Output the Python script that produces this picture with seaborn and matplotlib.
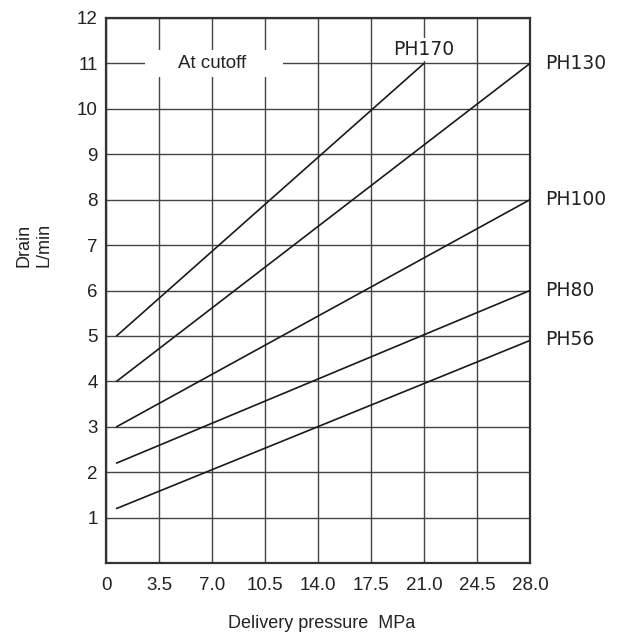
import matplotlib
matplotlib.use('Agg')
import matplotlib.pyplot as plt
import matplotlib.patches as mpatches
import seaborn as sns
import pandas as pd

# ---- data ----
models = ['PH170', 'PH130', 'PH100', 'PH80', 'PH56']
x_start = [0.7, 0.7, 0.7, 0.7, 0.7]
x_end = [21.0, 28.0, 28.0, 28.0, 28.0]
y_start = [5.0, 4.0, 3.0, 2.2, 1.2]
y_end = [11.0, 11.0, 8.0, 6.0, 4.9]
x_ticks = [0, 3.5, 7.0, 10.5, 14.0, 17.5, 21.0, 24.5, 28.0]
x_tick_labels = ['0', '3.5', '7.0', '10.5', '14.0', '17.5', '21.0', '24.5', '28.0']
y_ticks = list(range(1, 13))
y_tick_labels = [str(v) for v in y_ticks]

rows = []
for m, xs, xe, ys, ye in zip(models, x_start, x_end, y_start, y_end):
    rows.append({'model': m, 'pressure': xs, 'drain': ys})
    rows.append({'model': m, 'pressure': xe, 'drain': ye})
df = pd.DataFrame(rows)

sns.set_theme(style='white')
plt.rcParams['font.family'] = ['Liberation Sans', 'DejaVu Sans']

fig = plt.figure(figsize=(6.22, 6.37), dpi=100)
ax = fig.add_axes([106/622, 1-563/637, 424/622, 545/637])

sns.lineplot(data=df, x='pressure', y='drain', units='model', estimator=None,
             color='#1a1a1a', linewidth=1.2, ax=ax, zorder=3)

ax.set_xlim(0, 28)
ax.set_ylim(0, 12)
ax.set_xticks(x_ticks)
ax.set_xticklabels(x_tick_labels, fontsize=13.5, color='#222')
ax.set_yticks(y_ticks)
ax.set_yticklabels(y_tick_labels, fontsize=13.5, color='#222')
ax.tick_params(axis='x', length=0, pad=10)
ax.tick_params(axis='y', length=0, pad=6)
ax.grid(True, color='#444', linewidth=1.0, zorder=0.5)
ax.set_axisbelow(True)
for s in ax.spines.values():
    s.set_color('#333')
    s.set_linewidth(1.6)

ax.set_xlabel('')
ax.set_ylabel('')
fig.text(322/622, 1-623/637, 'Delivery pressure  MPa', fontsize=13,
         color='#222', ha='center', va='center')
fig.text(34/622, 1-245/637, 'Drain\nL/min', fontsize=13, color='#222',
         ha='center', va='center', rotation=90, linespacing=1.2,
         multialignment='center')

# "At cutoff" label with white background
ax.add_patch(mpatches.Rectangle((2.6, 10.7), 9.1, 0.6, facecolor='white',
                                edgecolor='none', zorder=1.5))
ax.text(7.0, 11.0, 'At cutoff', fontsize=13.5, ha='center', va='center',
        color='#222', zorder=4)

# series labels
ax.text(21.0, 11.3, 'PH170', fontsize=13.5, ha='center', va='center',
        family='DejaVu Sans', color='#222', zorder=4,
        bbox=dict(facecolor='white', edgecolor='none', pad=1.5))
label_pos = {'PH130': 11.0, 'PH100': 8.0, 'PH80': 6.0, 'PH56': 4.92}
for m, yv in label_pos.items():
    ax.text(29.0, yv, m, fontsize=13.5, ha='left', va='center',
            family='DejaVu Sans', color='#222', clip_on=False)

fig.savefig('out.png', dpi=100)
